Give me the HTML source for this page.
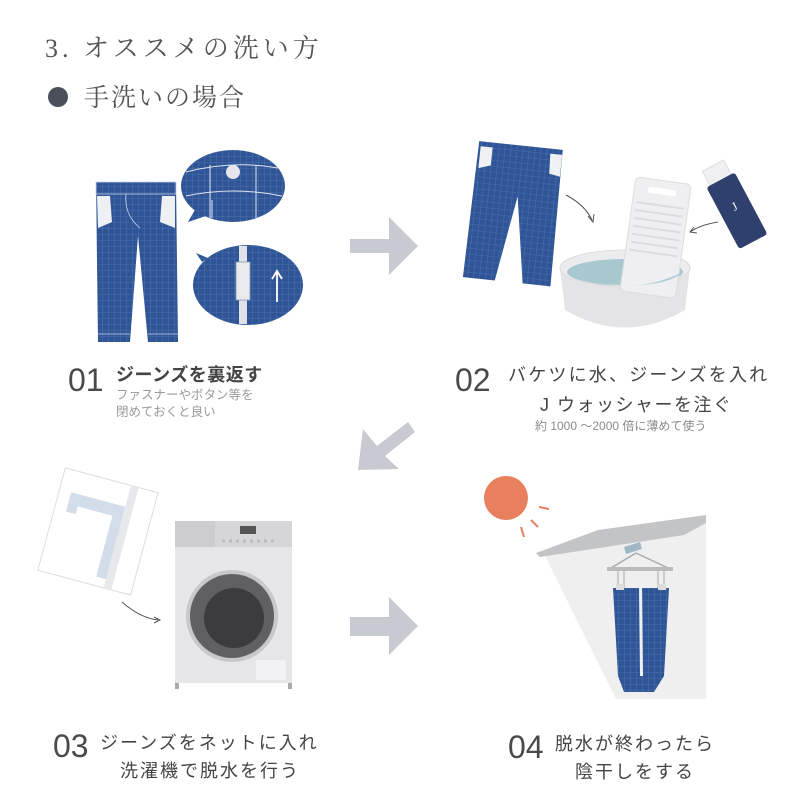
<!DOCTYPE html>
<html><head><meta charset="utf-8"><style>
html,body{margin:0;padding:0;background:#fff;width:800px;height:800px;overflow:hidden}
svg{display:block}
.jp{font-family:"Liberation Sans","Noto Sans CJK JP",sans-serif}
.num{font-family:"Liberation Sans",sans-serif;fill:#4a4a4a}
</style></head><body>
<svg width="800" height="800" viewBox="0 0 800 800" xmlns="http://www.w3.org/2000/svg">
<defs>
<pattern id="den" width="6" height="6" patternUnits="userSpaceOnUse">
<rect width="6" height="6" fill="#2f5597"/>
<path d="M0 0.5H6M0.5 0V6" stroke="#4a6eab" stroke-width="0.6"/>
</pattern>
</defs>
<!-- Titles -->
<text x="45" y="57" font-family="'Liberation Serif','Noto Serif CJK SC',serif" font-size="26" fill="#555" letter-spacing="4">3. オススメの洗い方</text>
<circle cx="58" cy="97" r="10" fill="#4a4f5a"/>
<text x="84" y="106" font-family="'Liberation Serif','Noto Serif CJK SC',serif" font-size="25" fill="#555" letter-spacing="2">手洗いの場合</text>

<!-- Step 1 jeans -->
<g>
<path d="M96 182 L176 182 L178 342 L148 342 L138 236 L130 342 L98 342 Z" fill="url(#den)"/>
<rect x="96" y="182" width="80" height="12" fill="url(#den)" stroke="#c8d3e6" stroke-width="0.8"/>
<path d="M97 196 L110 196 L112 222 L98 228 Z" fill="#eef0f4"/>
<path d="M175 196 L162 196 L160 222 L175 228 Z" fill="#eef0f4"/>
<path d="M126 194 Q124 215 140 228" stroke="#c8d3e6" fill="none" stroke-width="0.8"/>
<path d="M98 334 H130 M148 334 H178" stroke="#c8d3e6" stroke-width="0.8"/>
</g>
<g>
<ellipse cx="233" cy="186" rx="52" ry="36" fill="url(#den)"/>
<path d="M196 208 L188 222 L206 216 Z" fill="url(#den)"/>
<path d="M186 196 Q233 186 282 196 M210 165 V218 M256 165 V218 M212 200 V218" stroke="#dfe5ef" stroke-width="1" fill="none"/>
<path d="M186 172 Q233 160 278 168" stroke="#dfe5ef" fill="none"/>
<circle cx="233" cy="172" r="7" fill="#e5e6ea"/>
<ellipse cx="248" cy="285" rx="55" ry="40" fill="url(#den)"/>
<path d="M202 262 L196 253 L208 258 Z" fill="url(#den)"/>
<rect x="239" y="246" width="8" height="78" fill="#dfe2e8"/>
<rect x="236" y="262" width="14" height="38" fill="#e9eaee" stroke="#8a9ab8" stroke-width="0.8"/>
<path d="M277 302 V273 M272 279 L277 271 L282 279" stroke="#fff" stroke-width="1.8" fill="none"/>
</g>
<path d="M350 239 H389 V217 L418 246 L389 275 V253 H350 Z" fill="#c7cad0"/>
<text x="68" y="391" class="num" font-size="32">01</text>
<text x="116" y="381" class="jp" font-size="18" fill="#444" font-weight="bold" letter-spacing="0.5">ジーンズを裏返す</text>
<text x="116" y="399" class="jp" font-size="12.5" fill="#9a9a9a">ファスナーやボタン等を</text>
<text x="116" y="416" class="jp" font-size="12.5" fill="#9a9a9a">閉めておくと良い</text>

<!-- Step 2 -->
<g transform="rotate(6 513 212)">
<path d="M472 145 L556 145 L558 282 L530 282 L516 196 L502 282 L470 282 Z" fill="url(#den)"/>
<path d="M474 150 L486 150 L486 168 L474 172 Z M556 150 L544 150 L545 170 L556 172 Z" fill="#eef0f4"/>
</g>
<path d="M566 195 Q585 205 592 220" stroke="#555" fill="none" stroke-width="1"/>
<path d="M588 216 L593 222 L594 214" stroke="#555" fill="none"/>
<path d="M718 222 Q700 225 690 232" stroke="#555" fill="none"/>
<path d="M694 227 L690 232 L697 233" stroke="#555" fill="none"/>
<g transform="rotate(-28 735 205)">
<rect x="722" y="160" width="24" height="18" fill="#f0f0f2" stroke="#ddd"/>
<rect x="718" y="176" width="32" height="70" rx="3" fill="#2f3f6e"/>
<text x="734" y="210" font-family="'Liberation Serif',serif" font-size="12" fill="#fff" text-anchor="middle">J</text>
</g>
<path d="M560 268 L565 310 Q625 345 685 310 L690 268 Z" fill="#e4e4e6"/>
<ellipse cx="625" cy="268" rx="65" ry="18" fill="#ececee" stroke="#dcdcdc"/>
<ellipse cx="625" cy="272" rx="58" ry="13" fill="#a8c8d0"/>
<g transform="rotate(8 655 235)">
<rect x="628" y="180" width="56" height="115" rx="5" fill="#efeff1" stroke="#ddd"/>
<rect x="642" y="188" width="28" height="6" rx="2" fill="#fff"/>
<path d="M632 205 H680 M632 213 H680 M632 221 H680 M632 229 H680 M632 237 H680 M632 245 H680 M632 253 H680" stroke="#dcdce0" stroke-width="2"/>
</g>
<path d="M567 272 Q625 300 683 272 Q670 285 625 286 Q580 285 567 272 Z" fill="#a8c8d0" opacity="0.9"/>
<text x="455" y="391" class="num" font-size="32">02</text>
<text x="508" y="381" class="jp" font-size="18" fill="#444" letter-spacing="2.2">バケツに水、ジーンズを入れ</text>
<text x="540" y="411" class="jp" font-size="18" fill="#444" letter-spacing="1.5">J ウォッシャーを注ぐ</text>
<text x="535" y="430" class="jp" font-size="12" fill="#8a8a8a">約 1000 ～2000 倍に薄めて使う</text>

<!-- diag arrow -->
<path d="M358 470 L363 429 L377 446 L408 422 L415 432 L385 456 L399 469 Z" fill="#c7cad0"/>

<!-- Step 3 -->
<g transform="rotate(15 96 531)">
<rect x="50" y="478" width="96" height="106" fill="#fff" stroke="#ddd"/>
<path d="M62 500 H118 V575 H108 V512 H72 V520 H62 Z" fill="#d3ddea"/>
<rect x="118" y="478" width="8" height="106" fill="#e6e8ea"/>
</g>
<path d="M122 602 Q140 618 158 620" stroke="#555" fill="none"/>
<path d="M154 617 L160 620 L154 623" stroke="#555" fill="none"/>
<rect x="175" y="521" width="117" height="162" fill="#e6e6e8"/>
<rect x="175" y="521" width="117" height="26" fill="#d6d6d8"/>
<rect x="175" y="521" width="40" height="26" fill="#cdcdcf"/>
<rect x="240" y="526" width="16" height="8" fill="#555"/>
<path d="M222 541 H275" stroke="#bbb" stroke-width="3" stroke-dasharray="3 4"/>
<rect x="175" y="683" width="4" height="6" fill="#aaa"/><rect x="288" y="683" width="4" height="6" fill="#aaa"/>
<rect x="256" y="660" width="30" height="20" fill="#f2f2f4"/>
<circle cx="232" cy="616" r="46" fill="#c8c8ca"/>
<circle cx="232" cy="616" r="42" fill="#606062"/>
<circle cx="234" cy="618" r="30" fill="#3c3c3e"/>
<path d="M350 617 H389 V597 L418 626 L389 655 V636 H350 Z" fill="#c7cad0"/>
<text x="53" y="757" class="num" font-size="32">03</text>
<text x="100" y="749" class="jp" font-size="18" fill="#444" letter-spacing="2">ジーンズをネットに入れ</text>
<text x="120" y="777" class="jp" font-size="18" fill="#444" letter-spacing="2">洗濯機で脱水を行う</text>

<!-- Step 4 -->
<circle cx="506" cy="498" r="22" fill="#e8805e"/>
<path d="M539 507 L549 509 M531 520 L538 527 M521 527 L524 537" stroke="#e8805e" stroke-width="2"/>
<path d="M545 556 L706 522 L706 699 L616 699 Z" fill="#efeff0"/>
<path d="M536 553 L598 530 L706 515 L706 523 L684 535 L540 557 Z" fill="#c2c4c6"/>
<path d="M624 547 L640 542 L642 549 L626 554 Z" fill="#9fb8c4"/>
<path d="M636 553 L611 568 M636 553 L668 568" stroke="#aaa" stroke-width="1.5"/>
<rect x="607" y="567" width="66" height="4" fill="#bbb"/>
<path d="M618 571 V588 M624 571 V588 M658 571 V588 M664 571 V588" stroke="#aaa"/>
<path d="M613 588 H639 L640 676 L643 676 L642 588 H669 L664 676 L654 692 L624 692 L618 676 Z" fill="url(#den)"/>
<rect x="616" y="584" width="8" height="6" fill="#ddd"/><rect x="658" y="584" width="8" height="6" fill="#ddd"/>
<text x="508" y="758" class="num" font-size="32">04</text>
<text x="555" y="750" class="jp" font-size="18" fill="#444" letter-spacing="2">脱水が終わったら</text>
<text x="575" y="778" class="jp" font-size="18" fill="#444" letter-spacing="2">陰干しをする</text>
</svg>
</body></html>
